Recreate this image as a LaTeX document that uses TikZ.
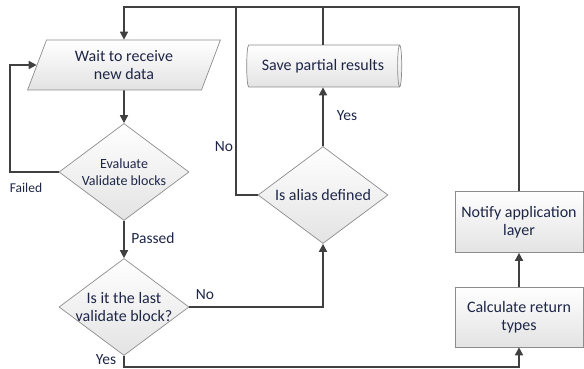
\documentclass[tikz,border=0pt]{standalone}
\usepackage{fontspec}
\setmainfont{Carlito}
\usepackage{tikz}
\usetikzlibrary{shapes.geometric, arrows.meta}

\definecolor{inkblue}{RGB}{30,38,72}
\definecolor{flowgray}{RGB}{64,64,64}
\definecolor{edgegray}{RGB}{140,140,140}

\begin{document}
\begin{tikzpicture}[x=1pt, y=-1pt,
    box/.style={draw=edgegray, line width=0.7pt, top color=white, bottom color=gray!22,
        text=inkblue, align=center, font=\fontsize{16}{18.5}\selectfont},
    decision/.style={box, diamond, aspect=1.34, minimum width=130pt, minimum height=97pt,
        inner xsep=-15pt, inner ysep=-5pt},
    flow/.style={draw=flowgray, line width=1.6pt},
    arrow/.style={flow, -{Triangle[length=8pt, width=8pt]}},
    lbl/.style={text=inkblue, font=\fontsize{15.5}{18}\selectfont, inner sep=0pt}]
    \useasboundingbox (0,0) rectangle (584,369);

    % Draw the shapes
    \node[box, trapezium, trapezium left angle=68, trapezium right angle=112, trapezium stretches=true,
        minimum width=193pt, minimum height=50pt, inner sep=0pt] (wait) at (124,65) {Wait to receive\\new data};
    \node[decision, font=\fontsize{14}{17}\selectfont] (eval) at (124,172) {Evaluate\\Validate blocks};
    \node[decision] (last) at (124,307) {Is it the last\\validate block?};
    \node[decision] (alias) at (323,195) {Is alias defined};
    \node[box, cylinder, shape aspect=0.3, minimum height=155pt, minimum width=42pt, inner sep=0pt] (save) at (323,66) {Save partial results};
    \node[box, minimum width=128pt, minimum height=61pt, inner sep=0pt] (notify) at (519,222) {Notify application\\layer};
    \node[box, minimum width=128pt, minimum height=60pt, inner sep=0pt] (calc) at (519,317) {Calculate return\\types};

    % Corners of the lines
    \coordinate (topr) at (519,7);
    \coordinate (topn) at (236,7);
    \coordinate (fail) at (10,172);
    \coordinate (bot) at (124,367);

    % Main flow
    \draw[arrow] (wait) -- (eval);
    \draw[arrow] (eval) -- (last);
    \draw[arrow] (eval.west) -- (fail) |- (wait.west);
    \draw[arrow] (last.east) -| (alias.south);
    \draw[arrow] (last.south) -- (bot) -| (calc.south);
    \draw[arrow] (alias.north) -- (save.south);
    \draw[arrow] (calc) -- (notify);

    % Back to the start
    \draw[arrow] (notify.north) -- (topr) -| (wait.north);
    \draw[flow] (alias.west) -| (topn);
    \draw[flow] (save.north) -- (save.north |- topr);

    % Labels
    \node[lbl, font=\fontsize{13.5}{16}\selectfont] (failed) at (26,188) {Failed};
    \node[lbl] (passed) at (153,238) {Passed};
    \node[lbl] (nolast) at (205,295) {No};
    \node[lbl] (yeslast) at (106,360) {Yes};
    \node[lbl] (noalias) at (224,147) {No};
    \node[lbl] (yesalias) at (347,116) {Yes};
\end{tikzpicture}
\end{document}
